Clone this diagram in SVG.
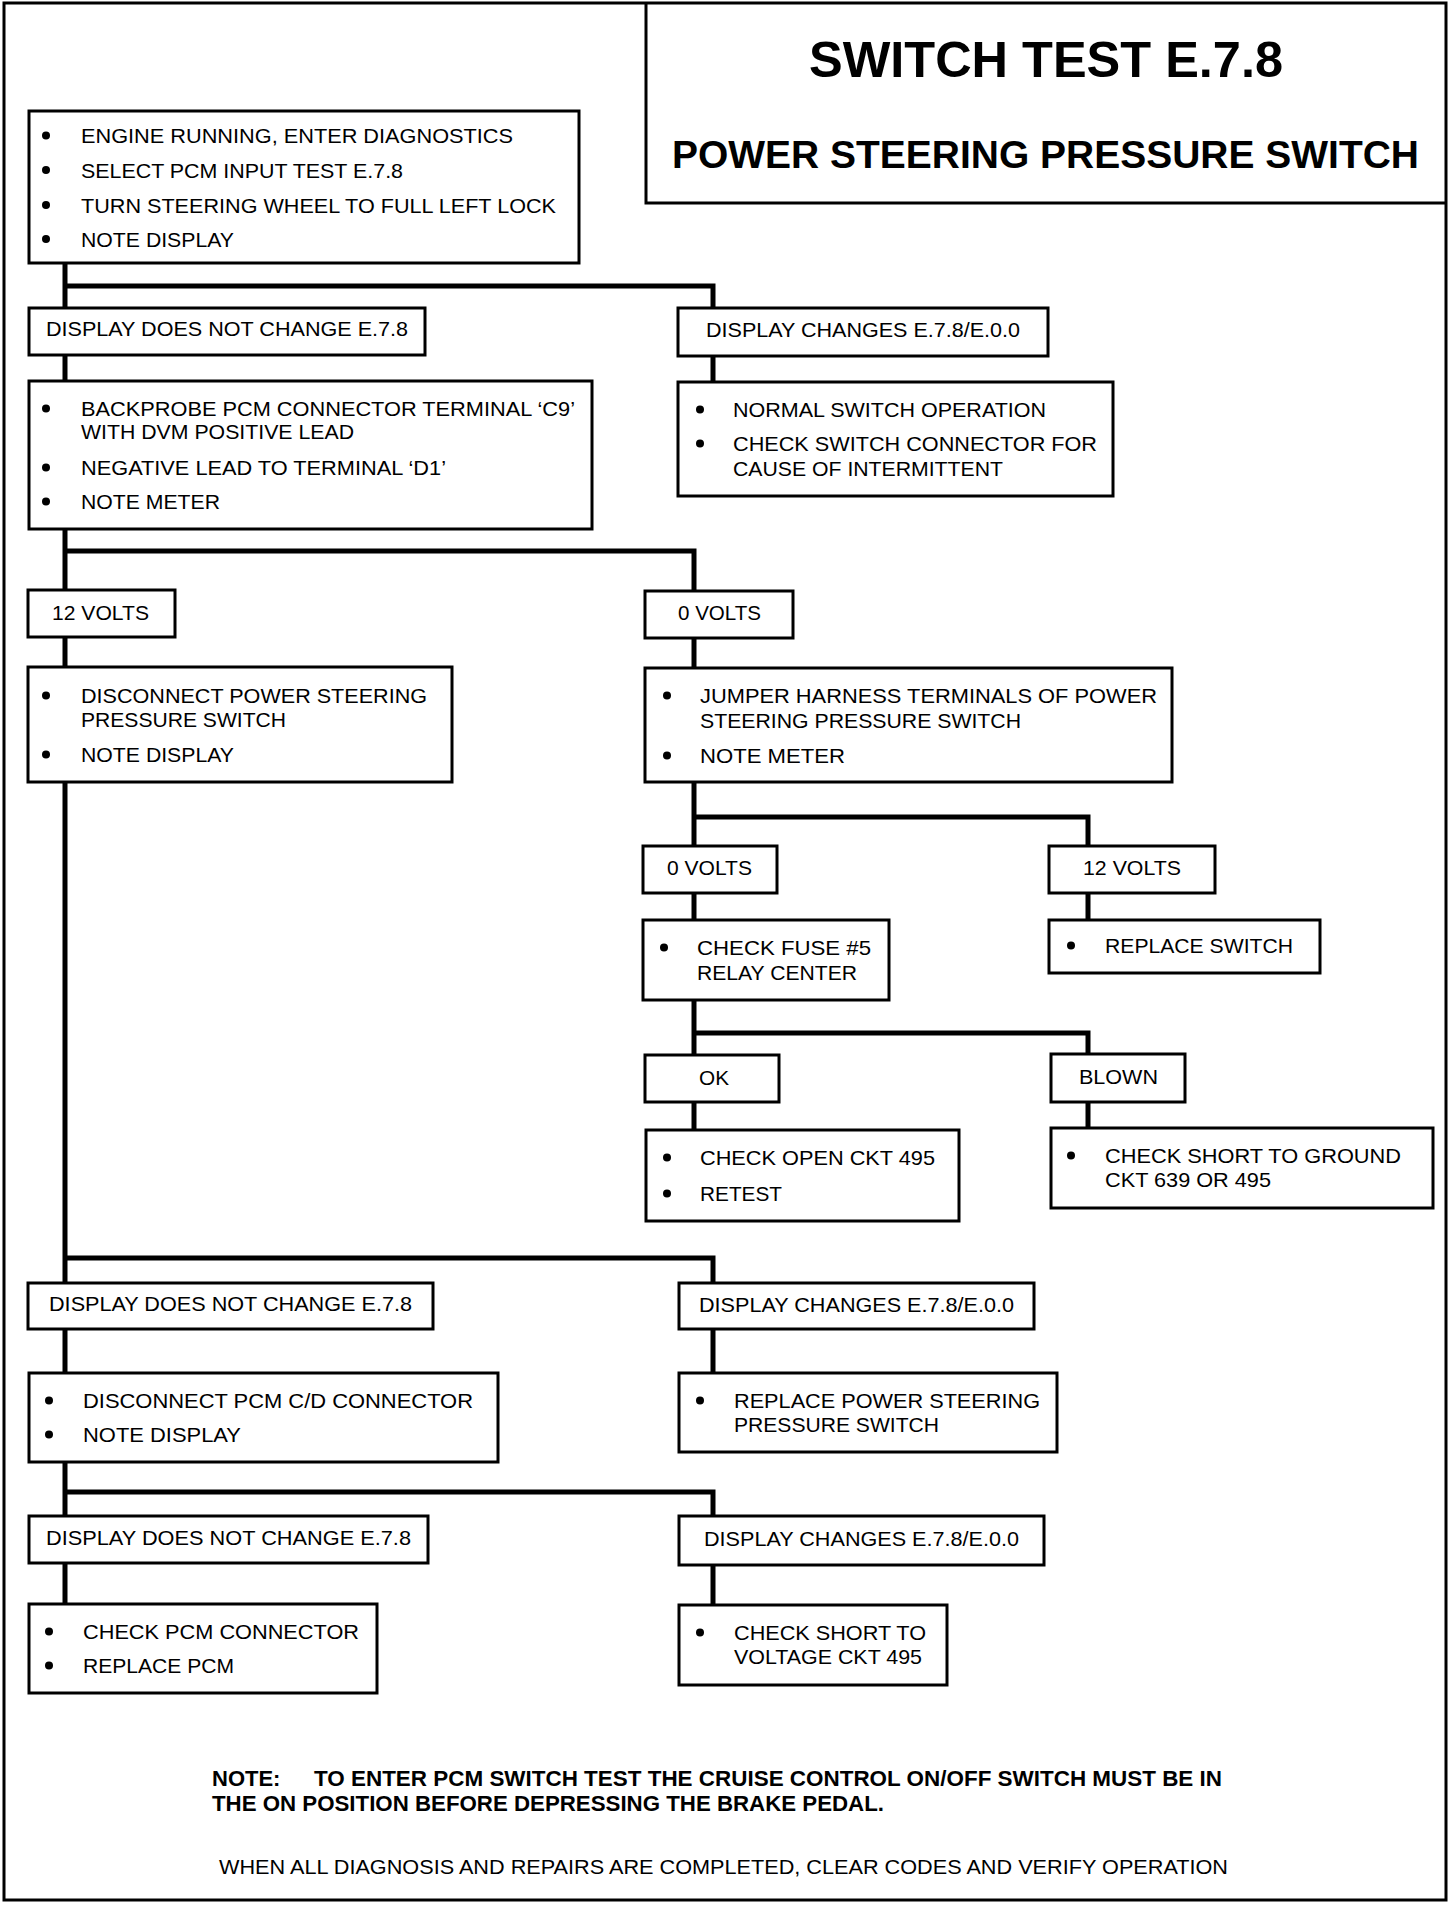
<svg xmlns="http://www.w3.org/2000/svg" width="1456" height="1906" viewBox="0 0 1456 1906">
<style>
.bx{fill:#fff;stroke:#000;stroke-width:3}
.t{font-family:"Liberation Sans",Arial,sans-serif;font-size:21px;fill:#000}
.tb{font-family:"Liberation Sans",Arial,sans-serif;font-weight:bold;fill:#000}
.c{stroke:#000;stroke-width:5;fill:none;stroke-linecap:square}
.b{fill:#000}
</style>
<rect width="1456" height="1906" fill="#fff"/>
<rect x="4" y="3" width="1442" height="1897" fill="none" stroke="#000" stroke-width="3"/>
<g id="title">
<path d="M646 3 V203 H1446" fill="none" stroke="#000" stroke-width="3"/>
<text class="tb" x="809" y="77" font-size="50" textLength="474" lengthAdjust="spacingAndGlyphs">SWITCH TEST E.7.8</text>
<text class="tb" x="672" y="168" font-size="38" textLength="747" lengthAdjust="spacingAndGlyphs">POWER STEERING PRESSURE SWITCH</text>
</g>
<g id="connectors">
<path class="c" d="M65 263 V308 M65 286 H713 V308"/>
<path class="c" d="M65 355 V381 M713 356 V382"/>
<path class="c" d="M65 529 V590 M65 551 H694 V591"/>
<path class="c" d="M65 637 V667 M694 638 V668"/>
<path class="c" d="M694 782 V846 M694 817 H1088 V846"/>
<path class="c" d="M694 893 V920 M1088 893 V920"/>
<path class="c" d="M694 1000 V1055 M694 1033 H1088 V1054"/>
<path class="c" d="M694 1102 V1130 M1088 1102 V1128"/>
<path class="c" d="M65 782 V1283 M65 1258 H713 V1283"/>
<path class="c" d="M65 1329 V1373 M713 1329 V1373"/>
<path class="c" d="M65 1462 V1516 M65 1492 H713 V1516"/>
<path class="c" d="M65 1563 V1604 M713 1565 V1605"/>
</g>
<g id="n-start">
<rect class="bx" x="29" y="111" width="550" height="152"/>
<circle class="b" cx="46" cy="135.5" r="4"/><text class="t" x="81" y="143" textLength="432" lengthAdjust="spacingAndGlyphs">ENGINE RUNNING, ENTER DIAGNOSTICS</text>
<circle class="b" cx="46" cy="170" r="4"/><text class="t" x="81" y="177.5" textLength="322" lengthAdjust="spacingAndGlyphs">SELECT PCM INPUT TEST E.7.8</text>
<circle class="b" cx="46" cy="205" r="4"/><text class="t" x="81" y="212.5" textLength="475" lengthAdjust="spacingAndGlyphs">TURN STEERING WHEEL TO FULL LEFT LOCK</text>
<circle class="b" cx="46" cy="239" r="4"/><text class="t" x="81" y="246.5" textLength="153" lengthAdjust="spacingAndGlyphs">NOTE DISPLAY</text>
</g>
<g id="n-nochange1">
<rect class="bx" x="29" y="308" width="396" height="47"/>
<text class="t" x="46" y="336" textLength="362" lengthAdjust="spacingAndGlyphs">DISPLAY DOES NOT CHANGE E.7.8</text>
</g>
<g id="n-changes1">
<rect class="bx" x="678" y="308" width="370" height="48"/>
<text class="t" x="706" y="337" textLength="314" lengthAdjust="spacingAndGlyphs">DISPLAY CHANGES E.7.8/E.0.0</text>
</g>
<g id="n-backprobe">
<rect class="bx" x="29" y="381" width="563" height="148"/>
<circle class="b" cx="46" cy="408.5" r="4"/><text class="t" x="81" y="416" textLength="494" lengthAdjust="spacingAndGlyphs">BACKPROBE PCM CONNECTOR TERMINAL &#8216;C9&#8217;</text>
<text class="t" x="81" y="439" textLength="273" lengthAdjust="spacingAndGlyphs">WITH DVM POSITIVE LEAD</text>
<circle class="b" cx="46" cy="467.5" r="4"/><text class="t" x="81" y="475" textLength="365" lengthAdjust="spacingAndGlyphs">NEGATIVE LEAD TO TERMINAL &#8216;D1&#8217;</text>
<circle class="b" cx="46" cy="501.5" r="4"/><text class="t" x="81" y="509" textLength="139" lengthAdjust="spacingAndGlyphs">NOTE METER</text>
</g>
<g id="n-normal">
<rect class="bx" x="678" y="382" width="435" height="114"/>
<circle class="b" cx="700" cy="409.5" r="4"/><text class="t" x="733" y="417" textLength="313" lengthAdjust="spacingAndGlyphs">NORMAL SWITCH OPERATION</text>
<circle class="b" cx="700" cy="443.5" r="4"/><text class="t" x="733" y="451" textLength="364" lengthAdjust="spacingAndGlyphs">CHECK SWITCH CONNECTOR FOR</text>
<text class="t" x="733" y="476" textLength="270" lengthAdjust="spacingAndGlyphs">CAUSE OF INTERMITTENT</text>
</g>
<g id="n-12v">
<rect class="bx" x="28" y="590" width="147" height="47"/>
<text class="t" x="52" y="620" textLength="97" lengthAdjust="spacingAndGlyphs">12 VOLTS</text>
</g>
<g id="n-0v">
<rect class="bx" x="645" y="591" width="148" height="47"/>
<text class="t" x="678" y="620" textLength="83" lengthAdjust="spacingAndGlyphs">0 VOLTS</text>
</g>
<g id="n-disconnect-ps">
<rect class="bx" x="28" y="667" width="424" height="115"/>
<circle class="b" cx="46" cy="695.5" r="4"/><text class="t" x="81" y="703" textLength="346" lengthAdjust="spacingAndGlyphs">DISCONNECT POWER STEERING</text>
<text class="t" x="81" y="727" textLength="205" lengthAdjust="spacingAndGlyphs">PRESSURE SWITCH</text>
<circle class="b" cx="46" cy="754.5" r="4"/><text class="t" x="81" y="762" textLength="153" lengthAdjust="spacingAndGlyphs">NOTE DISPLAY</text>
</g>
<g id="n-jumper">
<rect class="bx" x="645" y="668" width="527" height="114"/>
<circle class="b" cx="667" cy="695.5" r="4"/><text class="t" x="700" y="703" textLength="457" lengthAdjust="spacingAndGlyphs">JUMPER HARNESS TERMINALS  OF POWER</text>
<text class="t" x="700" y="727.5" textLength="321" lengthAdjust="spacingAndGlyphs">STEERING PRESSURE SWITCH</text>
<circle class="b" cx="667" cy="755.5" r="4"/><text class="t" x="700" y="763" textLength="145" lengthAdjust="spacingAndGlyphs">NOTE  METER</text>
</g>
<g id="n-0v-2">
<rect class="bx" x="643" y="846" width="134" height="47"/>
<text class="t" x="667" y="875" textLength="85" lengthAdjust="spacingAndGlyphs">0 VOLTS</text>
</g>
<g id="n-12v-2">
<rect class="bx" x="1049" y="846" width="166" height="47"/>
<text class="t" x="1083" y="875" textLength="98" lengthAdjust="spacingAndGlyphs">12 VOLTS</text>
</g>
<g id="n-fuse">
<rect class="bx" x="643" y="920" width="246" height="80"/>
<circle class="b" cx="664" cy="947.5" r="4"/><text class="t" x="697" y="955" textLength="174" lengthAdjust="spacingAndGlyphs">CHECK FUSE #5</text>
<text class="t" x="697" y="980" textLength="160" lengthAdjust="spacingAndGlyphs">RELAY CENTER</text>
</g>
<g id="n-replace-switch">
<rect class="bx" x="1049" y="920" width="271" height="53"/>
<circle class="b" cx="1071" cy="945.5" r="4"/><text class="t" x="1105" y="953" textLength="188" lengthAdjust="spacingAndGlyphs">REPLACE SWITCH</text>
</g>
<g id="n-ok">
<rect class="bx" x="645" y="1055" width="134" height="47"/>
<text class="t" x="699" y="1085" textLength="30" lengthAdjust="spacingAndGlyphs">OK</text>
</g>
<g id="n-blown">
<rect class="bx" x="1051" y="1054" width="134" height="48"/>
<text class="t" x="1079" y="1084" textLength="79" lengthAdjust="spacingAndGlyphs">BLOWN</text>
</g>
<g id="n-open">
<rect class="bx" x="646" y="1130" width="313" height="91"/>
<circle class="b" cx="667" cy="1157.5" r="4"/><text class="t" x="700" y="1165" textLength="235" lengthAdjust="spacingAndGlyphs">CHECK OPEN CKT 495</text>
<circle class="b" cx="667" cy="1193.5" r="4"/><text class="t" x="700" y="1201" textLength="82" lengthAdjust="spacingAndGlyphs">RETEST</text>
</g>
<g id="n-short-ground">
<rect class="bx" x="1051" y="1128" width="382" height="80"/>
<circle class="b" cx="1071" cy="1155.5" r="4"/><text class="t" x="1105" y="1163" textLength="296" lengthAdjust="spacingAndGlyphs">CHECK SHORT TO GROUND</text>
<text class="t" x="1105" y="1187" textLength="166" lengthAdjust="spacingAndGlyphs">CKT 639 OR 495</text>
</g>
<g id="n-nochange2">
<rect class="bx" x="28" y="1283" width="405" height="46"/>
<text class="t" x="49" y="1311" textLength="363" lengthAdjust="spacingAndGlyphs">DISPLAY DOES NOT CHANGE E.7.8</text>
</g>
<g id="n-changes2">
<rect class="bx" x="679" y="1283" width="355" height="46"/>
<text class="t" x="699" y="1312" textLength="315" lengthAdjust="spacingAndGlyphs">DISPLAY CHANGES E.7.8/E.0.0</text>
</g>
<g id="n-disconnect-pcm">
<rect class="bx" x="29" y="1373" width="469" height="89"/>
<circle class="b" cx="49" cy="1400.5" r="4"/><text class="t" x="83" y="1408" textLength="390" lengthAdjust="spacingAndGlyphs">DISCONNECT PCM C/D CONNECTOR</text>
<circle class="b" cx="49" cy="1434.5" r="4"/><text class="t" x="83" y="1442" textLength="158" lengthAdjust="spacingAndGlyphs">NOTE  DISPLAY</text>
</g>
<g id="n-replace-ps">
<rect class="bx" x="679" y="1373" width="378" height="79"/>
<circle class="b" cx="700" cy="1400.5" r="4"/><text class="t" x="734" y="1408" textLength="306" lengthAdjust="spacingAndGlyphs">REPLACE POWER  STEERING</text>
<text class="t" x="734" y="1432" textLength="205" lengthAdjust="spacingAndGlyphs">PRESSURE SWITCH</text>
</g>
<g id="n-nochange3">
<rect class="bx" x="29" y="1516" width="399" height="47"/>
<text class="t" x="46" y="1545" textLength="365" lengthAdjust="spacingAndGlyphs">DISPLAY DOES NOT CHANGE E.7.8</text>
</g>
<g id="n-changes3">
<rect class="bx" x="679" y="1516" width="365" height="49"/>
<text class="t" x="704" y="1546" textLength="315" lengthAdjust="spacingAndGlyphs">DISPLAY CHANGES E.7.8/E.0.0</text>
</g>
<g id="n-pcm">
<rect class="bx" x="29" y="1604" width="348" height="89"/>
<circle class="b" cx="49" cy="1631.5" r="4"/><text class="t" x="83" y="1639" textLength="276" lengthAdjust="spacingAndGlyphs">CHECK PCM CONNECTOR</text>
<circle class="b" cx="49" cy="1665.5" r="4"/><text class="t" x="83" y="1673" textLength="151" lengthAdjust="spacingAndGlyphs">REPLACE PCM</text>
</g>
<g id="n-short-voltage">
<rect class="bx" x="679" y="1605" width="268" height="80"/>
<circle class="b" cx="700" cy="1632.5" r="4"/><text class="t" x="734" y="1640" textLength="192" lengthAdjust="spacingAndGlyphs">CHECK SHORT TO</text>
<text class="t" x="734" y="1664" textLength="188" lengthAdjust="spacingAndGlyphs">VOLTAGE CKT 495</text>
</g>
<g id="notes">
<text class="tb" x="212" y="1786" font-size="22">NOTE:</text>
<text class="tb" x="314" y="1786" font-size="22" textLength="908" lengthAdjust="spacingAndGlyphs">TO ENTER PCM SWITCH TEST THE CRUISE CONTROL ON/OFF SWITCH MUST BE IN</text>
<text class="tb" x="212" y="1811" font-size="22" textLength="672" lengthAdjust="spacingAndGlyphs">THE ON POSITION BEFORE DEPRESSING THE BRAKE PEDAL.</text>
<text class="t" x="219" y="1874" textLength="1009" lengthAdjust="spacingAndGlyphs">WHEN ALL DIAGNOSIS AND REPAIRS ARE COMPLETED, CLEAR CODES AND VERIFY OPERATION</text>
</g>
</svg>
